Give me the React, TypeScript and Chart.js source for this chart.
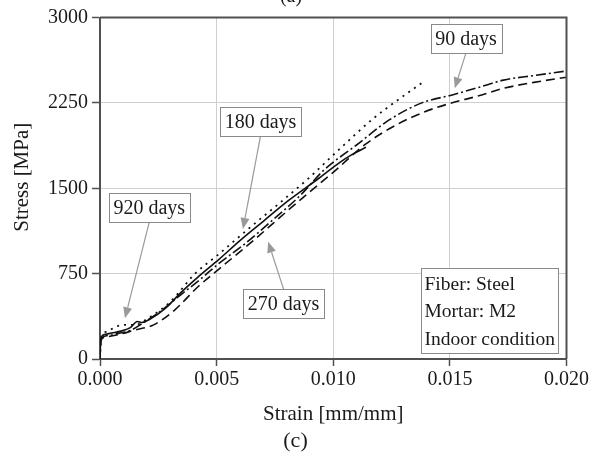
import React, { useEffect, useRef } from 'react';
import { Chart, registerables } from 'chart.js';

Chart.register(...registerables);

// ---- Data ----
const strain180 = [0, 0.00002, 0.00005, 0.0002, 0.0005, 0.0009, 0.0013, 0.0016, 0.0018, 0.0021, 0.0028, 0.0035, 0.0042, 0.0051, 0.006, 0.007, 0.0081, 0.0094, 0.0103, 0.0108, 0.0114];
const stress180 = [0, 120, 190, 215, 228, 245, 275, 330, 320, 345, 445, 590, 720, 875, 1040, 1210, 1395, 1590, 1730, 1795, 1860];

const strain920 = [0, 0.00002, 0.00006, 0.0003, 0.0007, 0.0011, 0.0015, 0.002, 0.003, 0.0041, 0.005, 0.0064, 0.0077, 0.0089, 0.0103, 0.0117, 0.0128, 0.0138];
const stress920 = [0, 130, 200, 240, 285, 300, 300, 350, 500, 755, 905, 1150, 1370, 1580, 1850, 2110, 2280, 2425];

const strain90 = [0, 0.00002, 0.00006, 0.0003, 0.0008, 0.0013, 0.0018, 0.0026, 0.0035, 0.0043, 0.0051, 0.0062, 0.0074, 0.0086, 0.0096, 0.011, 0.0124, 0.0138, 0.0151, 0.0163, 0.0173, 0.0186, 0.02];
const stress90 = [0, 110, 180, 205, 225, 250, 310, 420, 570, 700, 840, 1010, 1220, 1440, 1660, 1880, 2100, 2250, 2320, 2390, 2450, 2490, 2530];

const strain270 = [0, 0.00002, 0.00006, 0.0003, 0.0008, 0.0015, 0.0023, 0.0032, 0.0042, 0.0051, 0.0066, 0.008, 0.009, 0.01, 0.0114, 0.0127, 0.0139, 0.015, 0.0162, 0.0173, 0.0186, 0.02];
const stress270 = [0, 100, 170, 195, 215, 255, 300, 430, 635, 790, 1045, 1295, 1470, 1640, 1890, 2056, 2170, 2245, 2310, 2378, 2430, 2475];

const xTickValues = [0, 0.005, 0.01, 0.015, 0.02];
const yTickValues = [0, 750, 1500, 2250, 3000];

const xTitle = 'Strain [mm/mm]';
const yTitle = 'Stress [MPa]';
const topLabel = '(a)';
const bottomLabel = '(c)';

const calloutTexts = ['920 days', '180 days', '270 days', '90 days'];
const calloutBoxX = [0.00211, 0.00688, 0.00787, 0.01569];
const calloutBoxY = [1328, 2086, 486, 2817];
const calloutTipX = [0.00107, 0.00613, 0.00721, 0.01521];
const calloutTipY = [357, 1142, 1030, 2378];

const infoLines = ['Fiber: Steel', 'Mortar: M2', 'Indoor condition'];

const toPoints = (xs: number[], ys: number[]) => xs.map((v, i) => ({ x: v, y: ys[i] }));

const SERIF = '"Liberation Serif", "Times New Roman", serif';

const decorPlugin = {
  id: 'decor',
  afterDatasetsDraw(chart: any) {
    const { ctx, chartArea: ca, scales } = chart;
    const xs = scales.x;
    const ys = scales.y;
    ctx.save();

    // frame top & right
    ctx.strokeStyle = '#505050';
    ctx.lineWidth = 2;
    ctx.beginPath();
    ctx.moveTo(ca.left, ca.top);
    ctx.lineTo(ca.right, ca.top);
    ctx.lineTo(ca.right, ca.bottom);
    ctx.stroke();

    // callouts
    ctx.font = '20px ' + SERIF;
    calloutTexts.forEach((t, i) => {
      const cx = xs.getPixelForValue(calloutBoxX[i]);
      const cy = ys.getPixelForValue(calloutBoxY[i]);
      const tx = xs.getPixelForValue(calloutTipX[i]);
      const ty = ys.getPixelForValue(calloutTipY[i]);
      const w = ctx.measureText(t).width + 9;
      const h = 29;
      const sy = ty > cy ? cy + h / 2 : cy - h / 2;
      // arrow
      const ang = Math.atan2(ty - sy, tx - cx);
      const hl = 11;
      const hw = 4.5;
      const bx = tx - hl * Math.cos(ang);
      const by = ty - hl * Math.sin(ang);
      ctx.strokeStyle = '#9a9a9a';
      ctx.lineWidth = 1.2;
      ctx.beginPath();
      ctx.moveTo(cx, sy);
      ctx.lineTo(bx, by);
      ctx.stroke();
      ctx.fillStyle = '#9a9a9a';
      ctx.beginPath();
      ctx.moveTo(tx, ty);
      ctx.lineTo(bx + hw * Math.sin(ang), by - hw * Math.cos(ang));
      ctx.lineTo(bx - hw * Math.sin(ang), by + hw * Math.cos(ang));
      ctx.closePath();
      ctx.fill();
      // box
      ctx.fillStyle = '#ffffff';
      ctx.fillRect(cx - w / 2, cy - h / 2, w, h);
      ctx.strokeStyle = '#8a8a8a';
      ctx.lineWidth = 1;
      ctx.strokeRect(Math.round(cx - w / 2) + 0.5, Math.round(cy - h / 2) + 0.5, Math.round(w), Math.round(h));
      ctx.fillStyle = '#1a1a1a';
      ctx.textAlign = 'center';
      ctx.textBaseline = 'middle';
      ctx.fillText(t, cx, cy + 1);
    });

    // info box, anchored at bottom-right of plot area
    ctx.font = '19.5px ' + SERIF;
    let maxW = 0;
    infoLines.forEach((l) => { maxW = Math.max(maxW, ctx.measureText(l).width); });
    const bw = maxW + 6;
    const bh = 85;
    const bRight = ca.right - 8.5;
    const bBottom = ca.bottom - 6.5;
    const bLeft = bRight - bw;
    const bTop = bBottom - bh;
    ctx.fillStyle = '#ffffff';
    ctx.fillRect(bLeft, bTop, bw, bh);
    ctx.strokeStyle = '#8a8a8a';
    ctx.lineWidth = 1;
    ctx.strokeRect(Math.round(bLeft) + 0.5, Math.round(bTop) + 0.5, Math.round(bw), Math.round(bh));
    ctx.fillStyle = '#1a1a1a';
    ctx.textAlign = 'left';
    ctx.textBaseline = 'middle';
    infoLines.forEach((l, i) => {
      ctx.fillText(l, bLeft + 3, bTop + 17 + i * 27.5);
    });

    // axis titles
    ctx.font = '21px ' + SERIF;
    ctx.fillStyle = '#1a1a1a';
    ctx.textAlign = 'center';
    ctx.textBaseline = 'alphabetic';
    ctx.fillText(xTitle, (ca.left + ca.right) / 2, ca.bottom + 61);
    ctx.save();
    ctx.translate(28, (ca.top + ca.bottom) / 2 - 11);
    ctx.rotate(-Math.PI / 2);
    ctx.fillText(yTitle, 0, 0);
    ctx.restore();

    // panel labels
    ctx.font = '22px ' + SERIF;
    ctx.fillText(bottomLabel, 295.5, ca.bottom + 88);
    ctx.font = '20px ' + SERIF;
    ctx.fillText(topLabel, 291, ca.top - 16);

    ctx.restore();
  },
};

export default function App() {
  const ref = useRef<HTMLCanvasElement | null>(null);

  useEffect(() => {
    if (!ref.current) return;
    const lineBase = {
      borderColor: '#111111',
      borderWidth: 1.6,
      pointRadius: 0,
      fill: false,
      cubicInterpolationMode: 'monotone' as const,
    };
    const chart = new Chart(ref.current, {
      type: 'line',
      data: {
        datasets: [
          { ...lineBase, label: '180 days', data: toPoints(strain180, stress180) },
          { ...lineBase, label: '920 days', data: toPoints(strain920, stress920), borderDash: [2, 5], borderWidth: 1.8 },
          { ...lineBase, label: '90 days', data: toPoints(strain90, stress90), borderDash: [10, 3, 2, 3] },
          { ...lineBase, label: '270 days', data: toPoints(strain270, stress270), borderDash: [9, 5] },
        ],
      },
      options: {
        responsive: false,
        animation: false,
        layout: { padding: { left: 0, right: 24.3, top: 17.5, bottom: 0 } },
        plugins: { legend: { display: false }, tooltip: { enabled: false }, title: { display: false } },
        scales: {
          x: {
            type: 'linear',
            min: 0,
            max: 0.02,
            afterFit: (s: any) => { s.height = 99; },
            afterBuildTicks: (s: any) => { s.ticks = xTickValues.map((v) => ({ value: v })); },
            ticks: {
              color: '#1a1a1a',
              font: { family: SERIF, size: 20 },
              padding: 2,
              maxRotation: 0,
              callback: (v: any) => Number(v).toFixed(3),
            },
            grid: { color: '#cfcfcf', lineWidth: 1, tickLength: 7, tickColor: '#505050', tickWidth: 1.5 },
            border: { color: '#505050', width: 2 },
          },
          y: {
            type: 'linear',
            min: 0,
            max: 3000,
            afterFit: (s: any) => { s.width = 100; },
            afterBuildTicks: (s: any) => { s.ticks = yTickValues.map((v) => ({ value: v })); },
            ticks: {
              color: '#1a1a1a',
              font: { family: SERIF, size: 20 },
              padding: 4,
              callback: (v: any) => String(v),
            },
            grid: { color: '#cfcfcf', lineWidth: 1, tickLength: 8, tickColor: '#505050', tickWidth: 1.5 },
            border: { color: '#505050', width: 2 },
          },
        },
      },
      plugins: [decorPlugin],
    });
    return () => chart.destroy();
  }, []);

  return (
    <div style={{ position: 'fixed', left: 0, top: 0, width: 591, height: 458, background: '#fff' }}>
      <canvas ref={ref} width={591} height={458} />
    </div>
  );
}
